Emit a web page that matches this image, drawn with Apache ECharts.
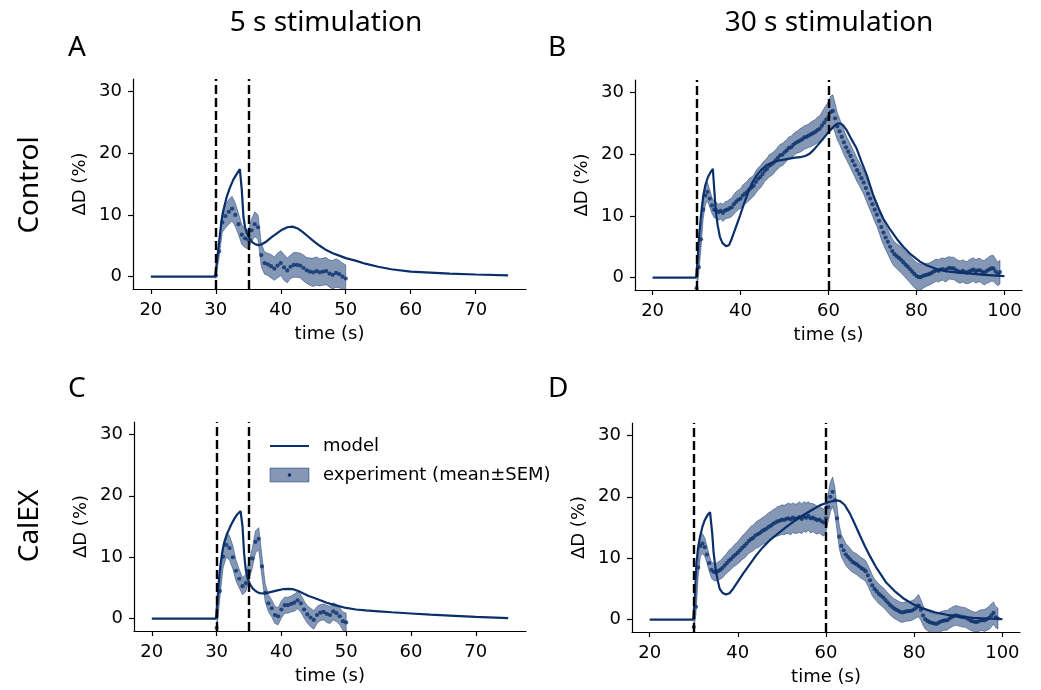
<!DOCTYPE html>
<html><head><meta charset="utf-8">
<script src="https://cdn.jsdelivr.net/npm/echarts@6/dist/echarts.min.js"></script>
<style>html,body{margin:0;padding:0;background:#fff}#c{width:1041px;height:690px}</style>
</head><body><div id="c"></div>
<script>
// ---- tick labels / stimulus markers ----
const xTicksShort = [20, 30, 40, 50, 60, 70];
const xTicksLong = [20, 40, 60, 80, 100];
const yTicks = [0, 10, 20, 30];
const stimShort = [30, 35];
const stimLong = [30, 60];
const colTitles = ['5 s stimulation', '30 s stimulation'];
const rowTitles = ['Control', 'CalEX'];
const panelLetters = ['A', 'B', 'C', 'D'];
const legendNames = ['model', 'experiment (mean±SEM)'];

// experiment sampling grid (s)
const expStart = 30, expStep = 0.5;

// ---- model curves [time, ΔD] ----
const modelA = [[20,0],[25,0],[29.9,0],[30,0.3],[30.2,2.8],[30.4,4.6],[30.6,6.5],[30.9,9.2],[31.2,10.9],[31.7,13.0],[32.2,14.5],[32.7,15.7],[33.2,16.6],[33.7,17.4],[33.9,17.7],[34.0,14.0],[34.25,9.7],[34.5,8.0],[34.8,7.0],[35.2,6.2],[35.6,5.6],[36.0,5.3],[36.5,5.1],[37.0,5.2],[37.8,5.7],[38.6,6.4],[39.4,7.0],[40.2,7.6],[41.0,8.0],[41.8,8.1],[42.6,7.8],[43.4,7.2],[44.2,6.5],[45.0,5.8],[46.0,5.0],[47.0,4.3],[48.0,3.8],[49.0,3.4],[50.0,3.0],[51.5,2.6],[53,2.1],[55,1.6],[57,1.2],[60,0.8],[63,0.65],[66,0.5],[70,0.35],[75,0.2]];
const modelB = [[20,0],[25,0],[29.9,0],[30,0.3],[30.3,3.5],[30.6,6.8],[31.0,10.0],[31.5,13.2],[32.0,15.0],[32.6,16.3],[33.2,17.1],[33.7,17.6],[33.9,17.7],[34.1,13.5],[34.4,10.5],[34.8,8.5],[35.3,6.6],[35.9,5.6],[36.7,5.1],[37.4,5.3],[38.0,6.3],[38.8,7.9],[39.9,10.1],[40.8,12.0],[41.75,13.9],[42.7,15.4],[43.7,16.6],[44.8,17.5],[45.9,18.2],[47.4,18.7],[49.0,19.0],[50.5,19.2],[52.0,19.4],[53.5,19.5],[54.7,19.7],[55.6,20.0],[56.5,20.6],[57.6,21.5],[58.8,22.5],[60.3,23.8],[61.1,24.4],[61.9,24.9],[62.6,25.0],[63.3,24.7],[64.2,23.8],[65.3,22.3],[66.4,20.9],[67.5,18.8],[68.7,16.6],[70.2,13.3],[71.4,11.2],[72.5,9.5],[74.0,7.8],[75.5,6.3],[77.0,5.0],[78.5,3.9],[80.8,2.6],[82.3,2.0],[84.6,1.4],[86.9,1.0],[89.5,0.8],[92.5,0.65],[95.5,0.45],[100,0.25]];
const modelC = [[20,0],[25,0],[29.9,0],[30,0.3],[30.2,4.0],[30.4,6.8],[30.6,8.8],[30.9,11.0],[31.2,12.5],[31.7,14.0],[32.2,15.2],[32.7,16.2],[33.2,17.0],[33.7,17.5],[33.9,17.7],[34.0,15.0],[34.25,10.5],[34.5,8.0],[34.8,6.5],[35.2,5.5],[35.6,4.9],[36.0,4.5],[36.5,4.2],[37.0,4.1],[37.8,4.2],[38.6,4.4],[39.4,4.6],[40.2,4.8],[41.0,4.85],[41.8,4.8],[42.6,4.5],[43.4,4.1],[44.2,3.7],[45.0,3.4],[46.0,3.0],[47.0,2.6],[48.0,2.3],[49.0,2.0],[50.0,1.75],[51.5,1.5],[53,1.35],[55,1.2],[57,1.05],[60,0.85],[63,0.65],[66,0.5],[70,0.3],[75,0.1]];
const modelD = [[20,0],[25,0],[29.9,0],[30,0.3],[30.3,4.5],[30.6,9.1],[31.0,11.8],[31.4,13.4],[32.0,15.2],[32.5,16.2],[33.2,17.1],[33.7,17.5],[34.0,17.7],[34.2,14.0],[34.5,11.0],[35.0,8.0],[35.5,6.2],[35.9,5.0],[36.5,4.4],[37.3,4.1],[38.1,4.3],[38.9,5.0],[40.0,6.2],[41.2,7.5],[42.7,9.0],[44.2,10.5],[45.7,11.8],[47.2,12.9],[49.1,14.0],[51.0,15.1],[52.9,16.1],[54.8,17.0],[56.7,17.8],[58.6,18.6],[60.5,19.1],[61.5,19.3],[62.4,19.4],[63.2,19.3],[64.2,18.7],[65.4,17.3],[66.5,15.6],[67.7,13.7],[68.8,12.0],[70.0,10.3],[71.3,8.6],[72.5,7.3],[73.7,6.0],[75.5,4.7],[77.5,3.5],[79.8,2.5],[82.1,1.8],[84.7,1.2],[87.4,0.8],[90.4,0.5],[93.4,0.3],[96.5,0.2],[100,0.1]];

// ---- experiment means and SEM (t = 30 ... step 0.5 s) ----
const expA_mean = [0.2,4.1,8.8,9.8,10.5,11.0,10.0,8.5,6.8,6.2,
  6.0,7.5,8.5,8.0,3.5,2.2,2.0,1.7,1.3,1.8,
  2.2,1.5,1.0,1.6,1.9,1.9,1.8,1.4,1.0,0.8,
  0.7,0.9,0.7,0.8,0.9,0.5,0.3,0.6,0.4,0.0,
  -0.3];
const expA_sem = [0.5,1.0,1.6,1.9,2.0,2.0,1.9,1.7,1.6,1.5,
  1.5,1.8,2.0,2.0,1.9,1.8,1.8,1.9,1.9,2.0,
  2.0,2.1,2.0,1.9,2.0,2.0,2.0,2.1,2.1,2.2,
  2.3,2.3,2.2,2.2,2.2,2.2,2.3,2.3,2.2,2.2,
  2.2];
const expC_mean = [-1.5,4.5,10.1,12.0,11.5,10.0,7.8,6.5,5.3,5.8,
  7.8,9.8,12.5,13.0,8.5,4.2,2.5,1.7,0.6,0.4,
  1.5,2.2,2.2,2.4,2.6,3.0,2.5,1.5,0.7,0.2,
  -0.2,0.6,1.0,1.1,0.8,0.6,1.2,0.9,0.4,-0.4,
  -0.6];
const expC_sem = [0.6,1.2,1.8,2.0,2.0,1.9,1.7,1.5,1.4,1.4,
  1.5,1.6,1.8,1.8,1.7,1.5,1.4,1.4,1.4,1.4,
  1.4,1.3,1.3,1.3,1.4,1.4,1.4,1.4,1.4,1.5,
  1.5,1.4,1.3,1.3,1.4,1.4,1.4,1.4,1.4,1.5,
  1.5];
const expB_mean = [-1.7,1.7,6.2,11.0,13.3,13.9,12.8,11.7,11.0,10.9,
  10.6,10.8,10.5,10.9,11.0,11.2,11.4,11.9,12.3,12.6,
  12.8,13.3,13.6,13.9,14.3,14.6,14.9,15.5,16.0,16.3,
  16.8,17.3,17.6,18.1,18.3,18.6,19.0,19.4,19.8,19.9,
  20.3,20.6,21.0,21.1,21.5,21.8,22.0,22.2,22.4,22.7,
  22.8,23.0,23.2,23.4,23.6,23.9,24.1,24.6,25.1,25.6,
  26.0,26.8,27.0,25.8,24.5,23.7,22.8,21.9,21.1,20.4,
  19.7,18.9,18.2,17.4,16.8,16.1,15.4,14.5,13.6,12.8,
  11.9,11.0,10.2,9.2,8.2,7.3,6.5,5.8,5.0,4.3,
  3.8,3.5,3.2,2.9,2.5,2.1,1.8,1.4,1.0,0.6,
  0.3,0.1,0.1,0.3,0.4,0.5,0.6,0.8,1.0,1.2,
  1.1,1.3,1.4,1.2,1.4,1.6,1.5,1.5,1.2,1.0,
  0.9,1.1,0.9,0.8,1.0,1.2,1.3,1.0,1.2,1.2,
  0.9,0.8,1.1,1.3,1.5,1.5,1.0,0.6,0.9];
const expB_sem = [0.6,1.0,1.4,1.5,1.5,1.5,1.4,1.3,1.3,1.3,
  1.3,1.3,1.4,1.4,1.4,1.5,1.5,1.6,1.6,1.6,
  1.6,1.7,1.7,1.7,1.8,1.7,1.7,1.8,1.8,1.8,
  1.8,1.7,1.7,1.8,1.8,1.8,1.7,1.8,1.8,1.8,
  1.8,1.7,1.8,1.8,1.8,1.8,1.8,1.9,1.9,1.9,
  1.9,1.9,2.0,2.0,2.0,2.1,2.1,2.2,2.3,2.4,
  2.5,2.6,2.6,2.4,2.2,2.1,2.0,2.0,1.9,1.9,
  1.9,1.9,1.9,1.9,1.9,1.9,1.9,1.9,1.9,1.9,
  1.9,1.9,1.9,1.9,2.0,2.0,2.0,2.0,2.0,2.0,
  2.0,2.0,2.1,2.1,2.1,2.1,2.2,2.2,2.2,2.2,
  2.2,2.2,2.1,2.0,1.9,1.8,1.8,1.8,1.8,1.8,
  1.8,1.8,1.8,1.9,1.9,1.8,1.8,1.8,1.8,1.8,
  1.8,1.8,1.8,1.8,1.9,1.9,1.9,1.9,1.9,1.9,
  1.9,2.0,2.0,2.1,2.1,2.1,2.0,1.9,1.9];
const expD_mean = [-1.2,2.1,8.5,12.0,12.4,11.8,10.6,9.2,8.1,7.8,
  7.7,7.9,8.1,8.4,8.8,9.2,9.6,9.9,10.3,10.6,
  10.9,11.3,11.7,12.0,12.4,12.8,13.1,13.3,13.7,13.9,
  14.1,14.4,14.6,14.8,15.1,15.3,15.6,15.8,16.0,16.1,
  16.3,16.2,16.4,16.5,16.3,16.6,16.4,16.5,16.7,16.4,
  16.8,16.6,16.9,16.5,16.6,16.4,16.2,16.3,16.0,15.8,
  16.5,18.3,20.0,20.8,19.4,16.5,13.5,12.0,11.3,10.6,
  10.2,9.8,9.4,9.2,9.0,8.7,8.4,8.2,7.9,7.2,
  6.4,5.6,5.0,4.6,4.2,3.9,3.6,3.2,2.8,2.4,
  2.1,1.8,1.6,1.4,1.2,1.2,1.3,1.4,1.4,1.5,
  1.7,2.0,2.3,1.6,0.7,0.1,-0.2,-0.4,-0.5,-0.6,
  -0.7,-0.5,-0.3,-0.2,-0.1,-0.1,0.2,0.4,0.6,0.7,
  0.6,0.5,0.4,0.4,0.2,0.0,-0.2,-0.3,-0.4,-0.3,
  -0.1,-0.1,-0.1,0.1,0.3,0.7,1.1,0.4,0.2];
const expD_sem = [0.6,1.2,1.6,1.7,1.6,1.5,1.4,1.3,1.3,1.4,
  1.4,1.5,1.5,1.6,1.6,1.6,1.7,1.7,1.7,1.8,
  1.8,1.9,1.9,2.0,2.0,2.0,2.1,2.1,2.1,2.2,
  2.2,2.2,2.2,2.3,2.3,2.3,2.3,2.3,2.4,2.4,
  2.4,2.4,2.4,2.5,2.5,2.4,2.4,2.4,2.5,2.4,
  2.4,2.4,2.3,2.4,2.3,2.3,2.3,2.2,2.2,2.2,
  2.2,2.3,2.4,2.4,2.2,2.0,1.9,1.8,1.8,1.8,
  1.8,1.8,1.7,1.7,1.7,1.7,1.7,1.7,1.7,1.7,
  1.7,1.7,1.6,1.6,1.6,1.6,1.6,1.6,1.6,1.6,
  1.6,1.6,1.6,1.6,1.6,1.6,1.6,1.6,1.6,1.6,
  1.6,1.7,1.8,1.7,1.6,1.6,1.6,1.6,1.6,1.6,
  1.6,1.6,1.6,1.6,1.6,1.6,1.6,1.6,1.6,1.6,
  1.6,1.6,1.6,1.6,1.6,1.6,1.6,1.6,1.6,1.7,
  1.7,1.7,1.8,1.8,1.9,1.9,1.8,1.7,1.7];

// ---- styling ----
const NAVY = '#0a2f6b';
const BAND_FILL = 'rgba(10,47,107,0.5)';
const BAND_EDGE = 'rgba(10,47,107,0.45)';
const TICK_FONT = 'DejaVu Sans';
const TITLE_FONT = '"Noto Sans", "Open Sans", sans-serif';

const panels = [
  {grid:{left:133, top:79, width:393, height:210}, xr:[17.25,77.75], ticks:xTicksShort, stim:stimShort, model:modelA, mean:expA_mean, sem:expA_sem},
  {grid:{left:635, top:80, width:387, height:210}, xr:[16,104], ticks:xTicksLong, stim:stimLong, model:modelB, mean:expB_mean, sem:expB_sem},
  {grid:{left:134, top:422, width:392, height:209}, xr:[17.25,77.75], ticks:xTicksShort, stim:stimShort, model:modelC, mean:expC_mean, sem:expC_sem},
  {grid:{left:632, top:423, width:388, height:209}, xr:[16,104], ticks:xTicksLong, stim:stimLong, model:modelD, mean:expD_mean, sem:expD_sem}
];

const grids = [], xAxes = [], yAxes = [], series = [];
panels.forEach((p, i) => {
  grids.push(Object.assign({containLabel:false}, p.grid));
  xAxes.push({
    type:'value', gridIndex:i, min:p.xr[0], max:p.xr[1],
    name:'time (s)', nameLocation:'middle', nameGap:36,
    nameTextStyle:{fontFamily:TICK_FONT, fontSize:18, color:'#000'},
    axisLine:{onZero:false, lineStyle:{color:'#000', width:1.2}},
    axisTick:{customValues:p.ticks, length:5, lineStyle:{color:'#000', width:1.2}},
    axisLabel:{customValues:p.ticks, fontFamily:TICK_FONT, fontSize:18, color:'#000', margin:12},
    splitLine:{show:false}
  });
  yAxes.push({
    type:'value', gridIndex:i, min:-2, max:32,
    name:'ΔD (%)', nameLocation:'middle', nameGap:44, nameRotate:90,
    nameTextStyle:{fontFamily:TICK_FONT, fontSize:18, color:'#000'},
    axisLine:{show:true, onZero:false, lineStyle:{color:'#000', width:1.2}},
    axisTick:{show:true, customValues:yTicks, length:5, lineStyle:{color:'#000', width:1.2}},
    axisLabel:{customValues:yTicks, fontFamily:TICK_FONT, fontSize:18, color:'#000', margin:11},
    splitLine:{show:false}
  });
  const pts = p.mean.map((m, k) => [expStart + k * expStep, m - p.sem[k], m + p.sem[k]]);
  series.push({
    type:'custom', xAxisIndex:i, yAxisIndex:i, clip:true, silent:true, z:1,
    data: pts, encode:{x:0, y:[1,2]},
    renderItem:(params, api) => {
      if (params.dataIndex !== 0) return null;
      const up = pts.map(q => api.coord([q[0], q[2]]));
      const lo = pts.map(q => api.coord([q[0], q[1]])).reverse();
      return {type:'polygon', shape:{points: up.concat(lo)},
        style:{fill:BAND_FILL, stroke:BAND_EDGE, lineWidth:1}};
    }
  });
  series.push({
    type:'scatter', xAxisIndex:i, yAxisIndex:i, silent:true, z:2,
    data: p.mean.map((m, k) => [expStart + k * expStep, m]),
    symbolSize:4.2, itemStyle:{color:NAVY}
  });
  series.push({
    type:'line', xAxisIndex:i, yAxisIndex:i, silent:true, z:3,
    data: p.model, symbol:'none', showSymbol:false,
    lineStyle:{color:NAVY, width:2.2}
  });
  series.push({
    type:'line', xAxisIndex:i, yAxisIndex:i, silent:true, z:5, data:[],
    markLine:{silent:true, symbol:'none', label:{show:false}, animation:false,
      lineStyle:{color:'#000', type:[9,4], width:2.4},
      data: p.stim.map(s => ({xAxis:s}))}
  });
});

const graphics = [
  {type:'text', x:326, y:23, style:{text:colTitles[0], font:'28px ' + TITLE_FONT, fill:'#000', align:'center', verticalAlign:'middle'}},
  {type:'text', x:829, y:23, style:{text:colTitles[1], font:'28px ' + TITLE_FONT, fill:'#000', align:'center', verticalAlign:'middle'}},
  {type:'text', x:68, y:48, style:{text:panelLetters[0], font:'28px ' + TITLE_FONT, fill:'#000', align:'left', verticalAlign:'middle'}},
  {type:'text', x:548, y:48, style:{text:panelLetters[1], font:'28px ' + TITLE_FONT, fill:'#000', align:'left', verticalAlign:'middle'}},
  {type:'text', x:68, y:389, style:{text:panelLetters[2], font:'28px ' + TITLE_FONT, fill:'#000', align:'left', verticalAlign:'middle'}},
  {type:'text', x:548, y:389, style:{text:panelLetters[3], font:'28px ' + TITLE_FONT, fill:'#000', align:'left', verticalAlign:'middle'}},
  {type:'text', x:30, y:185, rotation:Math.PI/2, style:{text:rowTitles[0], font:'28px ' + TITLE_FONT, fill:'#000', align:'center', verticalAlign:'middle'}},
  {type:'text', x:30, y:526, rotation:Math.PI/2, style:{text:rowTitles[1], font:'28px ' + TITLE_FONT, fill:'#000', align:'center', verticalAlign:'middle'}},
  // legend (panel C)
  {type:'line', shape:{x1:270, y1:446, x2:309, y2:446}, style:{stroke:NAVY, lineWidth:2.2}},
  {type:'rect', shape:{x:270, y:468, width:39, height:14}, style:{fill:BAND_FILL, stroke:BAND_EDGE, lineWidth:1}},
  {type:'circle', shape:{cx:289.5, cy:475, r:1.8}, style:{fill:NAVY}},
  {type:'text', x:323, y:446, style:{text:legendNames[0], font:'18px "DejaVu Sans"', fill:'#000', align:'left', verticalAlign:'middle'}},
  {type:'text', x:323, y:475, style:{text:legendNames[1], font:'18px "DejaVu Sans"', fill:'#000', align:'left', verticalAlign:'middle'}}
];

const chart = echarts.init(document.getElementById('c'), null, {renderer:'canvas'});
chart.setOption({
  animation:false,
  backgroundColor:'#fff',
  grid:grids, xAxis:xAxes, yAxis:yAxes, series:series,
  graphic:graphics
});
</script>
</body></html>
